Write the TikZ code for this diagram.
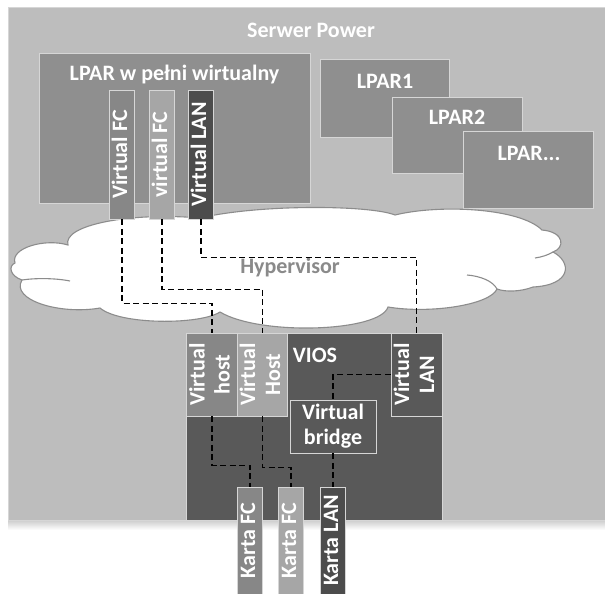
\documentclass[tikz,border=0pt]{standalone}
\usepackage{fontspec}
\setmainfont{Carlito}
\usetikzlibrary{positioning}

\definecolor{srvgray}{gray}{0.74}
\definecolor{lpargray}{gray}{0.56}
\definecolor{viosgray}{gray}{0.35}
\definecolor{midgray}{gray}{0.53}
\definecolor{litegray}{gray}{0.65}
\definecolor{deepgray}{gray}{0.30}
\definecolor{edgegray}{gray}{0.84}
\definecolor{cloudedge}{gray}{0.55}
\definecolor{hypgray}{gray}{0.54}

\newcommand{\vlab}[1]{\rotatebox{90}{\begin{tabular}{@{}c@{}}#1\end{tabular}}}

\begin{document}
\begin{tikzpicture}[x=1pt,y=-1pt]
	\tikzstyle{every node}+=[inner sep=0pt, text=white, font=\fontsize{22}{25}\selectfont\bfseries]
	\tikzstyle{srvbox}=[fill=srvgray, draw=edgegray, line width=0.6pt]
	\tikzstyle{lparbox}=[fill=lpargray, draw=edgegray, line width=0.8pt]
	\tikzstyle{port}=[draw=edgegray, line width=0.8pt]
	\tikzstyle{cloudline}=[draw=cloudedge, line width=1.1pt]
	\tikzstyle{link}=[draw=black, line width=1.8pt, dash pattern=on 6pt off 3.5pt]
	\useasboundingbox (0,0) rectangle (605,594);
	\clip (0,0) rectangle (605,594);
	% server and partitions
	\shade [top color=gray!40, bottom color=white] (8,520) rectangle (605,530);
	\node [srvbox, minimum width=597, minimum height=513] (serwer) at (306.5,263.5) {};
	\node (serwert) at (311,30) {Serwer Power};
	\node [lparbox, minimum width=271, minimum height=150] (lparv) at (174.5,128) {};
	\node (lparvt) at (174.5,75) {LPAR w pełni wirtualny};
	\node [lparbox, minimum width=129, minimum height=78] (lpar1) at (384.5,98) {};
	\node (lpar1t) at (385,81) {LPAR1};
	\node [lparbox, minimum width=130, minimum height=76] (lpar2) at (457,135) {};
	\node (lpar2t) at (457,117) {LPAR2};
	\node [lparbox, minimum width=130, minimum height=77] (lparn) at (528,169.5) {};
	\node (lparnt) at (529,153) {LPAR...};
	% hypervisor cloud
	\draw [cloudline, fill=white] (15,263) .. controls (10,248) and (45,238) .. (68,245)
		.. controls (62,225) and (130,212) .. (200,218)
		.. controls (260,204) and (370,205) .. (395,215)
		.. controls (440,204) and (520,208) .. (542,230)
		.. controls (565,232) and (565,248) .. (553,252)
		.. controls (572,262) and (572,285) .. (533,287)
		.. controls (520,292) and (505,292) .. (497,289)
		.. controls (490,305) and (430,314) .. (388,307)
		.. controls (380,332) and (260,336) .. (220,312)
		.. controls (200,325) and (120,325) .. (100,308)
		.. controls (60,315) and (10,300) .. (22,280)
		.. controls (10,276) and (8,266) .. (15,263) -- cycle;
	\draw [cloudline] (22,280) .. controls (35,278) and (55,278) .. (70,281);
	\draw [cloudline] (553,252) .. controls (548,255) and (542,257) .. (535,258);
	\draw [cloudline] (467,275) .. controls (480,276) and (493,281) .. (497,289);
	\node [text=hypgray] (hyp) at (290,268) {Hypervisor};
	% virtual adapters of the partition
	\node [port, fill=midgray, minimum width=22, minimum height=129] (vfc1) at (122,154.5) {\vlab{Virtual FC}};
	\node [port, fill=litegray, minimum width=22, minimum height=129] (vfc2) at (162,154.5) {\vlab{virtual FC}};
	\node [port, fill=deepgray, minimum width=22, minimum height=129] (vlan) at (201,154.5) {\vlab{Virtual LAN}};
	% VIOS
	\node [port, fill=viosgray, minimum width=256, minimum height=187] (vios) at (314,426.5) {};
	\node (viost) at (315,355) {VIOS};
	\node [port, fill=midgray, minimum width=52, minimum height=83] (vhost) at (212,374.5) {\vlab{Virtual\\host}};
	\node [port, fill=litegray, minimum width=49, minimum height=83] (vHost) at (262.5,374.5) {\vlab{Virtual\\Host}};
	\node [port, fill=viosgray, minimum width=51, minimum height=83] (vioslan) at (416.5,374.5) {\vlab{Virtual\\LAN}};
	\node [port, fill=viosgray, minimum width=86, minimum height=53, align=center] (bridge) at (333,426.5) {Virtual\\bridge};
	% physical cards
	\node [port, fill=midgray, minimum width=22, minimum height=107] (kfc1) at (250,540.5) {\vlab{Karta FC}};
	\node [port, fill=litegray, minimum width=22, minimum height=107] (kfc2) at (291,540.5) {\vlab{Karta FC}};
	\node [port, fill=deepgray, minimum width=22, minimum height=107] (klan) at (333,540.5) {\vlab{Karta LAN}};
	% dashed paths
	\draw [link] (vfc1.south) -- ++(0,84) -| (vhost.north);
	\draw [link] (vfc2.south) -- ++(0,70) -| (vHost.north);
	\draw [link] (vlan.south) -- ++(0,38) -| (vioslan.north);
	\draw [link] (vhost.south) -- ++(0,49) -| (kfc1.north);
	\draw [link] (vHost.south) -- ++(0,51) -| (kfc2.north);
	\draw [link] (vioslan.west) -| (bridge.north);
	\draw [link] (bridge.south) -- (klan.north);
\end{tikzpicture}
\end{document}
